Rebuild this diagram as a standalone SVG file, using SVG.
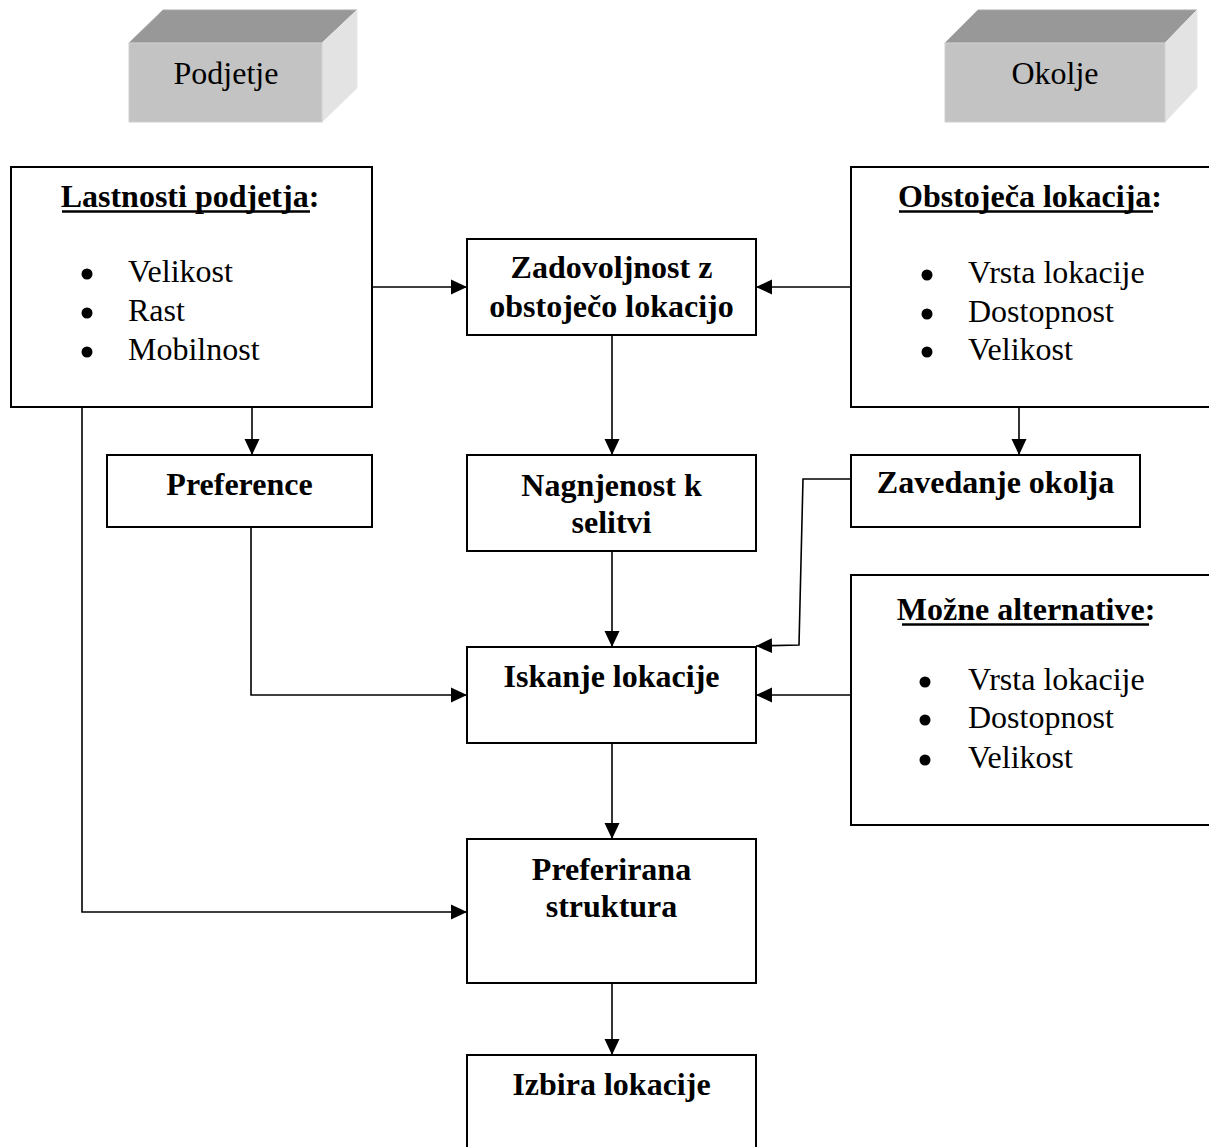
<svg xmlns="http://www.w3.org/2000/svg" width="1209" height="1147" viewBox="0 0 1209 1147">
<defs>
<marker id="arr" markerUnits="userSpaceOnUse" markerWidth="17" markerHeight="16" refX="16" refY="8" orient="auto">
<path d="M0,0.5 L16,8 L0,15.5 z" fill="#000"/>
</marker>
</defs>
<style>
.box{fill:#fff;stroke:#000;stroke-width:2}
.t{font-family:"Liberation Serif","Times New Roman",serif;font-size:32px;fill:#000}
.b{font-weight:bold}
.c{text-anchor:middle}
.ul{stroke:#000;stroke-width:2.5}
.ln{fill:none;stroke:#000;stroke-width:1.6;marker-end:url(#arr)}
.front{fill:#c3c3c3;stroke:#cfcfcf;stroke-width:1}
.top{fill:#989898;stroke:#a8a8a8;stroke-width:1}
.side{fill:#e3e3e3;stroke:#e8e8e8;stroke-width:1}
</style>
<rect width="1209" height="1147" fill="#fff"/>

<g id="podjetje">
<polygon class="top" points="129,43 163,10 357,10 322,43"/>
<polygon class="side" points="322,43 357,10 357,88 322,122"/>
<rect class="front" x="129" y="43" width="193" height="79"/>
<text class="t c" x="226" y="84">Podjetje</text>
</g>

<g id="okolje">
<polygon class="top" points="945,43 978,10 1197,10 1165,43"/>
<polygon class="side" points="1165,43 1197,10 1197,88 1165,122"/>
<rect class="front" x="945" y="43" width="220" height="79"/>
<text class="t c" x="1055" y="84">Okolje</text>
</g>

<g id="lastnosti">
<rect class="box" x="11" y="167" width="361" height="240"/>
<text class="t b c" x="190" y="207">Lastnosti podjetja:</text>
<line class="ul" x1="62" y1="211.5" x2="310" y2="211.5"/>
<circle cx="87" cy="274" r="5.5"/>
<circle cx="87" cy="313" r="5.5"/>
<circle cx="87" cy="352" r="5.5"/>
<text class="t" x="128" y="282">Velikost</text>
<text class="t" x="128" y="321">Rast</text>
<text class="t" x="128" y="360">Mobilnost</text>
</g>

<g id="obstojeca">
<rect class="box" x="851" y="167" width="362" height="240"/>
<text class="t b c" x="1030" y="207">Obstoječa lokacija:</text>
<line class="ul" x1="899" y1="211.5" x2="1153" y2="211.5"/>
<circle cx="927" cy="275" r="5.5"/>
<circle cx="927" cy="314" r="5.5"/>
<circle cx="927" cy="352" r="5.5"/>
<text class="t" x="968" y="283">Vrsta lokacije</text>
<text class="t" x="968" y="322">Dostopnost</text>
<text class="t" x="968" y="360">Velikost</text>
</g>

<g id="zadovoljnost">
<rect class="box" x="467" y="239" width="289" height="96"/>
<text class="t b c" x="611.5" y="278">Zadovoljnost z</text>
<text class="t b c" x="611.5" y="317">obstoječo lokacijo</text>
</g>

<g id="preference">
<rect class="box" x="107" y="455" width="265" height="72"/>
<text class="t b c" x="239.5" y="495">Preference</text>
</g>

<g id="nagnjenost">
<rect class="box" x="467" y="455" width="289" height="96"/>
<text class="t b c" x="611.5" y="496">Nagnjenost k</text>
<text class="t b c" x="611.5" y="533">selitvi</text>
</g>

<g id="zavedanje">
<rect class="box" x="851" y="455" width="289" height="72"/>
<text class="t b c" x="995.5" y="493">Zavedanje okolja</text>
</g>

<g id="mozne">
<rect class="box" x="851" y="575" width="362" height="250"/>
<text class="t b c" x="1026" y="620">Možne alternative:</text>
<line class="ul" x1="902" y1="624.5" x2="1149" y2="624.5"/>
<circle cx="925" cy="682" r="5.5"/>
<circle cx="925" cy="720" r="5.5"/>
<circle cx="925" cy="760" r="5.5"/>
<text class="t" x="968" y="690">Vrsta lokacije</text>
<text class="t" x="968" y="728">Dostopnost</text>
<text class="t" x="968" y="768">Velikost</text>
</g>

<g id="iskanje">
<rect class="box" x="467" y="647" width="289" height="96"/>
<text class="t b c" x="611.5" y="687">Iskanje lokacije</text>
</g>

<g id="preferirana">
<rect class="box" x="467" y="839" width="289" height="144"/>
<text class="t b c" x="611.5" y="880">Preferirana</text>
<text class="t b c" x="611.5" y="917">struktura</text>
</g>

<g id="izbira">
<rect class="box" x="467" y="1055" width="289" height="110"/>
<text class="t b c" x="611.5" y="1095">Izbira lokacije</text>
</g>

<g id="connectors">
<path class="ln" d="M372,287 L467,287"/>
<path class="ln" d="M851,287 L756,287"/>
<path class="ln" d="M252,407 L252,455"/>
<path class="ln" d="M1019,407 L1019,455"/>
<path class="ln" d="M612,335 L612,455"/>
<path class="ln" d="M612,551 L612,647"/>
<path class="ln" d="M612,743 L612,839"/>
<path class="ln" d="M612,983 L612,1055"/>
<path class="ln" d="M251,527 L251,695 L467,695"/>
<path class="ln" d="M82,407 L82,912 L467,912"/>
<path class="ln" d="M851,479 L803,479 L799,645 L756,646"/>
<path class="ln" d="M851,695 L756,695"/>
</g>
</svg>
